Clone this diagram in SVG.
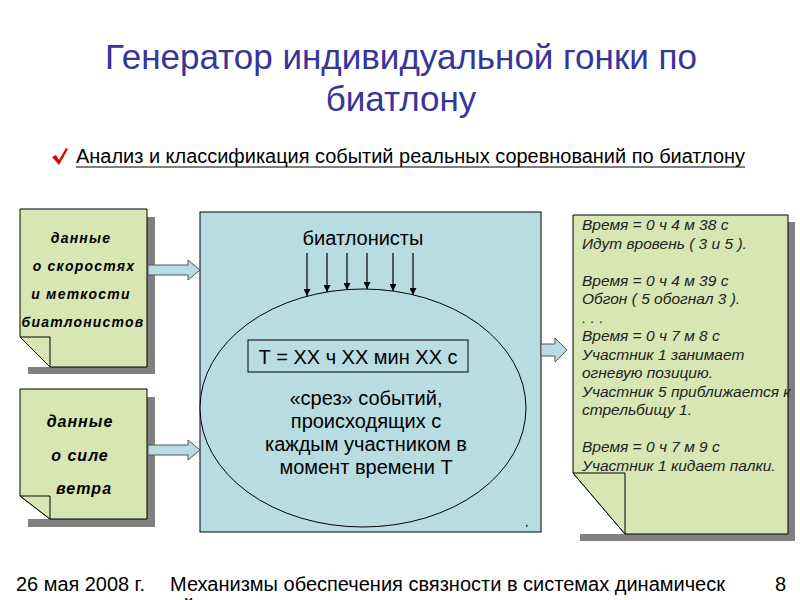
<svg xmlns="http://www.w3.org/2000/svg" width="800" height="600" viewBox="0 0 800 600">
<style>
.title{font-family:"Liberation Sans",Arial,sans-serif;font-size:35px;fill:#35359a;text-anchor:middle}
.narrow{font-family:"Liberation Sans Narrow","Liberation Sans",Arial,sans-serif}
.note{fill:#d7e6b3;stroke:#000;stroke-width:1}
.shadow{fill:#808080}
.fold{fill:#d7e6b3;stroke:#000;stroke-width:1}
.lt{font-family:"Liberation Sans",Arial,sans-serif;font-weight:bold;font-style:italic;fill:#000;text-anchor:middle}
.rt{font-family:"Liberation Sans",Arial,sans-serif;font-style:italic;font-size:15.5px;fill:#222}
.ct{font-family:"Liberation Sans",Arial,sans-serif;font-size:20px;fill:#000;text-anchor:middle}
.barrow{fill:#b7dde3;stroke:#555;stroke-width:1}
.conn{stroke:#000;stroke-width:1.2;fill:none}
</style>
<defs>
<marker id="ah" viewBox="0 0 10 10" refX="10" refY="5" markerWidth="7" markerHeight="7" markerUnits="userSpaceOnUse" orient="auto">
<path d="M0,0 L10,5 L0,10 z" fill="#000"/>
</marker>
</defs>
<rect width="800" height="600" fill="#fff"/>

<text class="title" x="401" y="69">Генератор индивидуальной гонки по</text>
<text class="title" x="401" y="111">биатлону</text>

<g id="subtitle">
<path d="M52,157 L56,155 L59,160 L66,148 L68,149 L59,165 z" fill="#e00000"/>
<text class="narrow" x="76" y="163" font-size="20" textLength="669" lengthAdjust="spacingAndGlyphs" fill="#000">Анализ и классификация событий реальных соревнований по биатлону</text>
<line x1="76" y1="167" x2="745" y2="167" stroke="#000" stroke-width="1.2"/>
</g>

<g id="note-speed">
<path class="shadow" d="M147,217 H155 V374 H28 V367 H147 z"/>
<path class="note" d="M20,209 H147 V367 H50 L20,337 z"/>
<path class="fold" d="M20,337 H50 V367 z"/>
<text class="lt" font-size="14" letter-spacing="1.2" x="81" y="243">данные</text>
<text class="lt" font-size="14" letter-spacing="1.2" x="84" y="271">о скоростях</text>
<text class="lt" font-size="14" letter-spacing="1.2" x="81" y="299">и меткости</text>
<text class="lt" font-size="14" letter-spacing="1.2" x="83" y="327">биатлонистов</text>
</g>

<g id="note-wind">
<path class="shadow" d="M147,397 H155 V527 H28 V519 H147 z"/>
<path class="note" d="M20,389 H147 V519 H50 L20,496 z"/>
<path class="fold" d="M20,496 H50 V519 z"/>
<text class="lt" font-size="16" letter-spacing="1" x="80" y="427">данные</text>
<text class="lt" font-size="16" letter-spacing="1" x="80" y="461">о силе</text>
<text class="lt" font-size="16" letter-spacing="1" x="84" y="494">ветра</text>
</g>

<g id="generator">
<rect x="200" y="212" width="341" height="320" fill="#b7dde3" stroke="#000" stroke-width="1"/>
<text class="ct" x="363" y="245">биатлонисты</text>
<ellipse cx="363" cy="408" rx="163" ry="119" fill="#b7dde3" stroke="#000" stroke-width="1"/>
<rect x="248" y="340" width="220" height="32" fill="#b7dde3" stroke="#000" stroke-width="1"/>
<text class="ct" x="358" y="364">Т = ХХ ч ХХ мин ХХ с</text>
<text class="ct" x="366" y="405">«срез» событий,</text>
<text class="ct" x="366" y="428">происходящих с</text>
<text class="ct" x="366" y="451">каждым участником в</text>
<text class="ct" x="366" y="474">момент времени Т</text>
<rect x="526" y="525" width="1.5" height="1.5" fill="#000"/>
</g>

<g id="note-events">
<path class="shadow" d="M788,222 H795 V541 H580 V534 H788 z"/>
<path class="note" d="M573,215 H788 V534 H625 L573,473 z"/>
<path class="fold" d="M573,473 H625 V534 z"/>
<text class="rt" x="582" y="230">Время = 0 ч 4 м 38 с</text>
<text class="rt" x="582" y="248.5">Идут вровень ( 3 и 5 ).</text>
<text class="rt" x="582" y="285.5">Время = 0 ч 4 м 39 с</text>
<text class="rt" x="582" y="304">Обгон ( 5 обогнал 3 ).</text>
<text class="rt" x="582" y="322.5">. . .</text>
<text class="rt" x="582" y="341">Время = 0 ч 7 м 8 с</text>
<text class="rt" x="582" y="359.5">Участник 1 занимает</text>
<text class="rt" x="582" y="378">огневую позицию.</text>
<text class="rt" x="582" y="396.5">Участник 5 приближается к</text>
<text class="rt" x="582" y="415">стрельбищу 1.</text>
<text class="rt" x="582" y="452">Время = 0 ч 7 м 9 с</text>
<text class="rt" x="582" y="470.5">Участник 1 кидает палки.</text>
</g>

<g id="connectors">
<path class="barrow" d="M148,265 H188 V260 L200,270 L188,280 V275 H148 z"/>
<path class="barrow" d="M148,445 H188 V440 L200,450 L188,460 V455 H148 z"/>
<path class="barrow" d="M541,344 H555 V338 L567,350 L555,362 V356 H541 z"/>
<line class="conn" x1="307" y1="253" x2="307" y2="296" marker-end="url(#ah)"/>
<line class="conn" x1="327" y1="253" x2="327" y2="292" marker-end="url(#ah)"/>
<line class="conn" x1="347" y1="253" x2="347" y2="290" marker-end="url(#ah)"/>
<line class="conn" x1="367" y1="253" x2="367" y2="289" marker-end="url(#ah)"/>
<line class="conn" x1="393" y1="253" x2="393" y2="291" marker-end="url(#ah)"/>
<line class="conn" x1="413" y1="253" x2="413" y2="295" marker-end="url(#ah)"/>
</g>

<g id="footer">
<text class="narrow" x="16" y="591" font-size="20" textLength="129" lengthAdjust="spacingAndGlyphs" fill="#000">26 мая 2008 г.</text>
<text class="narrow" x="170" y="591" font-size="20" textLength="555" lengthAdjust="spacingAndGlyphs" fill="#000">Механизмы обеспечения связности в системах динамическ</text>
<text class="narrow" x="183" y="613" font-size="20" fill="#000">й</text>
<text class="narrow" x="775" y="591" font-size="20" fill="#000">8</text>
</g>
</svg>
